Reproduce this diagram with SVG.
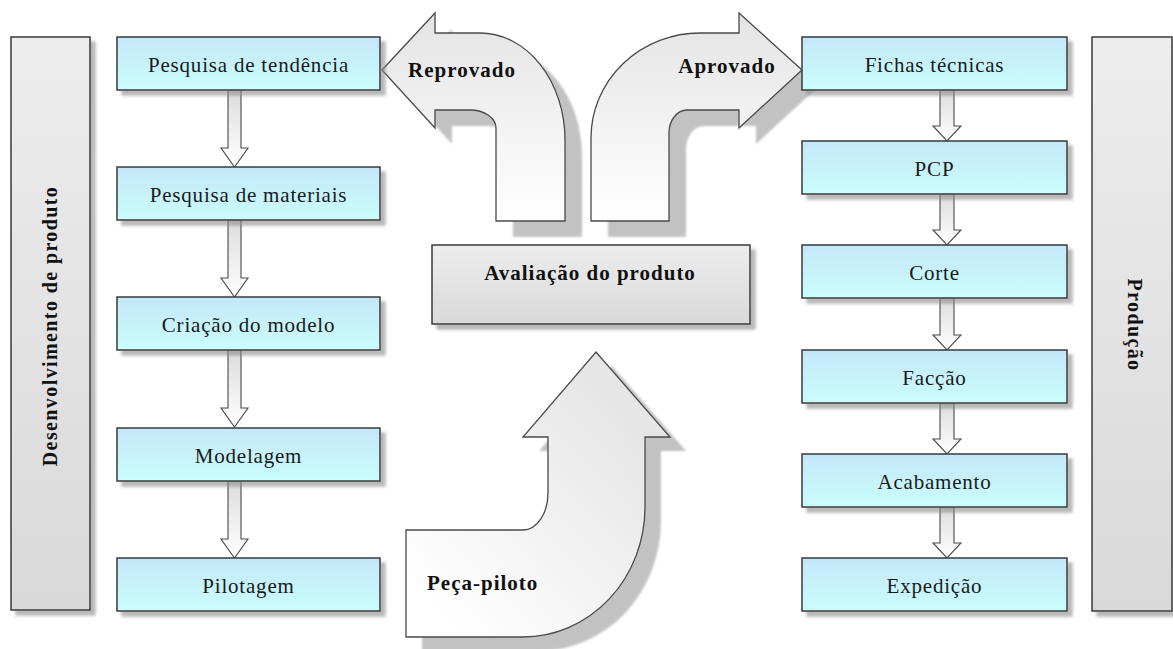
<svg xmlns="http://www.w3.org/2000/svg" width="1173" height="649" viewBox="0 0 1173 649">
<defs>
<linearGradient id="gBox" x1="0" y1="0" x2="0" y2="1"><stop offset="0" stop-color="#c5e7f8"/><stop offset="1" stop-color="#c9fdfd"/></linearGradient>
<linearGradient id="gBar" x1="0" y1="0" x2="0" y2="1"><stop offset="0" stop-color="#ededed"/><stop offset="1" stop-color="#d9d9d9"/></linearGradient>
<linearGradient id="gBig" x1="0" y1="0" x2="0" y2="1"><stop offset="0" stop-color="#e4e4e4"/><stop offset="1" stop-color="#ffffff"/></linearGradient>
<linearGradient id="gUp" x1="0" y1="1" x2="1" y2="0"><stop offset="0.1" stop-color="#ffffff"/><stop offset="0.8" stop-color="#e6e6e6"/></linearGradient>
<linearGradient id="gConn" x1="0" y1="0" x2="0" y2="1"><stop offset="0" stop-color="#dcdcdc"/><stop offset="1" stop-color="#ffffff"/></linearGradient>
<filter id="sh" x="-10%" y="-10%" width="130%" height="140%"><feDropShadow dx="5" dy="5" stdDeviation="1.5" flood-color="#8a8a8a" flood-opacity="0.6"/></filter>
<filter id="soft"><feGaussianBlur stdDeviation="0.8"/></filter>
</defs>
<style>
.box{fill:url(#gBox);stroke:#3a3a3a;stroke-width:1.5;filter:url(#sh)}
.bar{fill:url(#gBar);stroke:#3a3a3a;stroke-width:1.5;filter:url(#sh)}
.t{font-family:"Liberation Serif",serif;font-size:21px;fill:#1a1a1a;text-anchor:middle;letter-spacing:0.8px}
.b{font-family:"Liberation Serif",serif;font-size:21px;font-weight:bold;fill:#111;letter-spacing:1px}
.vb{font-family:"Liberation Serif",serif;font-size:20px;font-weight:bold;fill:#111;letter-spacing:1.4px;text-anchor:middle}
.big{stroke:#4a4a4a;stroke-width:1.3;stroke-linejoin:miter}
.shd{fill:#c2c2c2;filter:url(#soft)}
.conn{fill:url(#gConn);stroke:#4a4a4a;stroke-width:1.1}
</style>
<rect width="1173" height="649" fill="#ffffff"/>

<g id="bar-desenvolvimento">
<rect class="bar" x="11" y="37" width="79" height="573"/>
<text class="vb" transform="translate(57,326) rotate(-90)">Desenvolvimento de produto</text>
</g>
<g id="bar-producao">
<rect class="bar" x="1092" y="37" width="80" height="574"/>
<text class="vb" transform="translate(1128,325) rotate(90)">Produção</text>
</g>

<g id="arrow-reprovado">
<path class="shd" transform="translate(17,16)" d="M382,70 L435,13 L435,33 L480,33 A85,107 0 0 1 565,140 L565,221 L496,221 L496,128 A26,18 0 0 0 470,110 L435,110 L435,128 Z"/>
<path class="big" fill="url(#gBig)" d="M382,70 L435,13 L435,33 L480,33 A85,107 0 0 1 565,140 L565,221 L496,221 L496,128 A26,18 0 0 0 470,110 L435,110 L435,128 Z"/>
<text class="b" x="462" y="77" text-anchor="middle">Reprovado</text>
</g>
<g id="arrow-aprovado">
<path class="shd" transform="translate(17,16)" d="M802,70 L739,13 L739,33 L700,33 A109,105 0 0 0 591,138 L591,221 L669,221 L669,133 A18,23 0 0 1 687,110 L739,110 L739,128 Z"/>
<path class="big" fill="url(#gBig)" d="M802,70 L739,13 L739,33 L700,33 A109,105 0 0 0 591,138 L591,221 L669,221 L669,133 A18,23 0 0 1 687,110 L739,110 L739,128 Z"/>
<text class="b" x="727" y="73" text-anchor="middle">Aprovado</text>
</g>
<g id="node-avaliacao">
<rect class="box" style="fill:url(#gBar)" x="432" y="245" width="318" height="79"/>
<text class="b" x="590" y="280" text-anchor="middle">Avaliação do produto</text>
</g>
<g id="arrow-peca-piloto">
<path class="shd" transform="translate(16,14)" d="M596,352 L670,437 L645,437 L645,507 A122,130 0 0 1 523,637 L406,637 L406,530 L523,530 A25,37 0 0 0 548,493 L548,437 L523,437 Z"/>
<path class="big" fill="url(#gUp)" d="M596,352 L670,437 L645,437 L645,507 A122,130 0 0 1 523,637 L406,637 L406,530 L523,530 A25,37 0 0 0 548,493 L548,437 L523,437 Z"/>
<text class="b" x="427" y="590">Peça-piloto</text>
</g>

<g id="connectors">
<path class="conn" d="M228,90 L241,90 L241,148 L248,148 L234.5,167 L221,148 L228,148 Z"/>
<path class="conn" d="M228,220 L241,220 L241,278 L248,278 L234.5,297 L221,278 L228,278 Z"/>
<path class="conn" d="M228,350 L241,350 L241,408 L248,408 L234.5,427 L221,408 L228,408 Z"/>
<path class="conn" d="M228,481 L241,481 L241,539 L248,539 L234.5,558 L221,539 L228,539 Z"/>
<path class="conn" d="M940,90 L954,90 L954,126 L961,126 L947,141 L933,126 L940,126 Z"/>
<path class="conn" d="M940,194 L954,194 L954,230 L961,230 L947,245 L933,230 L940,230 Z"/>
<path class="conn" d="M940,298 L954,298 L954,335 L961,335 L947,350 L933,335 L940,335 Z"/>
<path class="conn" d="M940,403 L954,403 L954,439 L961,439 L947,454 L933,439 L940,439 Z"/>
<path class="conn" d="M940,507 L954,507 L954,543 L961,543 L947,558 L933,543 L940,543 Z"/>
</g>

<g id="node-pesquisa-tendencia"><rect class="box" x="117" y="37" width="263" height="53"/><text class="t" x="248.5" y="72">Pesquisa de tendência</text></g>
<g id="node-pesquisa-materiais"><rect class="box" x="117" y="167" width="263" height="53"/><text class="t" x="248.5" y="202">Pesquisa de materiais</text></g>
<g id="node-criacao-modelo"><rect class="box" x="117" y="297" width="263" height="53"/><text class="t" x="248.5" y="332">Criação do modelo</text></g>
<g id="node-modelagem"><rect class="box" x="117" y="428" width="263" height="53"/><text class="t" x="248.5" y="463">Modelagem</text></g>
<g id="node-pilotagem"><rect class="box" x="117" y="558" width="263" height="53"/><text class="t" x="248.5" y="593">Pilotagem</text></g>

<g id="node-fichas"><rect class="box" x="802" y="37" width="265" height="53"/><text class="t" x="934.5" y="72">Fichas técnicas</text></g>
<g id="node-pcp"><rect class="box" x="802" y="141" width="265" height="53"/><text class="t" x="934.5" y="176">PCP</text></g>
<g id="node-corte"><rect class="box" x="802" y="245" width="265" height="53"/><text class="t" x="934.5" y="280">Corte</text></g>
<g id="node-faccao"><rect class="box" x="802" y="350" width="265" height="53"/><text class="t" x="934.5" y="385">Facção</text></g>
<g id="node-acabamento"><rect class="box" x="802" y="454" width="265" height="53"/><text class="t" x="934.5" y="489">Acabamento</text></g>
<g id="node-expedicao"><rect class="box" x="802" y="558" width="265" height="53"/><text class="t" x="934.5" y="593">Expedição</text></g>
</svg>
